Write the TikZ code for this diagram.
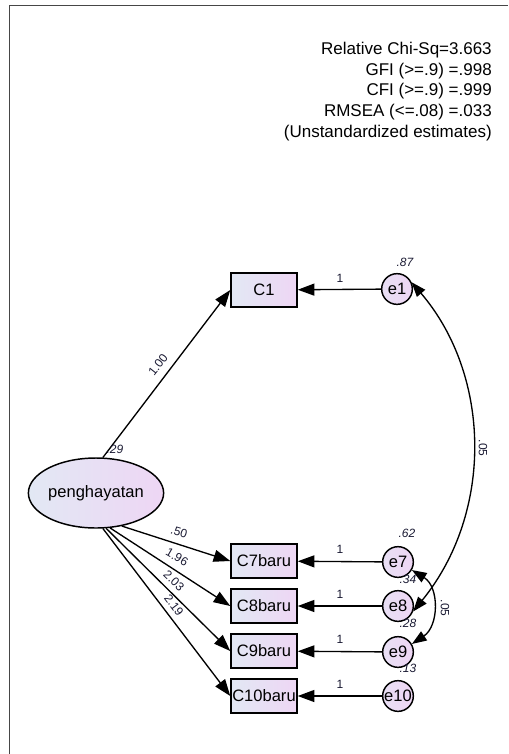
\documentclass[tikz,border=0pt]{standalone}
\usepackage{fontspec}
\setmainfont{Liberation Sans}
\usetikzlibrary{arrows.meta,shapes.geometric}
\definecolor{fillL}{RGB}{226,232,244}
\definecolor{fillR}{RGB}{238,214,244}
\definecolor{lblc}{RGB}{25,25,50}
\definecolor{brdc}{RGB}{70,70,70}
\begin{document}
\begin{tikzpicture}[x=0.75pt,y=-0.75pt,
  box/.style={draw=black, line width=1.1pt, left color=fillL, right color=fillR,
    minimum width=49.5pt, minimum height=25.5pt, inner sep=0pt,
    font=\fontsize{12.4}{14}\selectfont},
  err/.style={circle, draw=black, line width=1.1pt, left color=fillL!50!fillR, right color=fillR,
    minimum size=23pt, inner sep=0pt, font=\fontsize{12.4}{14}\selectfont},
  lat/.style={ellipse, draw=black, line width=1.1pt, left color=fillL, right color=fillR,
    minimum width=100.5pt, minimum height=52.5pt, inner sep=0pt,
    font=\fontsize{12.4}{14}\selectfont},
  reg/.style={line width=1pt, -{Triangle[length=12.5pt,width=9pt]}},
  cov/.style={line width=1pt, {Triangle[length=11pt,width=8pt]}-{Triangle[length=11pt,width=8pt]}},
  lbl/.style={font=\fontsize{9}{10}\selectfont, text=lblc, inner sep=0pt},
  var/.style={font=\fontsize{9}{10}\selectfont\itshape, text=lblc, inner sep=0pt},
  fitline/.style={font=\fontsize{12.75}{15}\selectfont, inner sep=0pt, anchor=base east},
  brd/.style={draw=brdc, line width=1.1pt}]
\useasboundingbox (0,0) rectangle (508,754);
\draw[brd] (9.5,754) -- (9.5,5.5) -- (508,5.5);

% fit statistics
\node[fitline] (t1) at (492,54) {Relative Chi-Sq=3.663};
\node[fitline] (t2) at (492,75) {GFI (>=.9) =.998};
\node[fitline] (t3) at (492,95.5) {CFI (>=.9) =.999};
\node[fitline] (t4) at (492,116) {RMSEA (<=.08) =.033};
\node[fitline] (t5) at (492,137) {(Unstandardized estimates)};

% observed variables
\node[box] (c1) at (264,290) {C1};
\node[box] (c7) at (264,561) {C7baru};
\node[box] (c8) at (264,606) {C8baru};
\node[box] (c9) at (264,651) {C9baru};
\node[box] (c10) at (264,696) {C10baru};

% errors
\node[err] (e1) at (397,289) {e1};
\node[err] (e7) at (398,562) {e7};
\node[err] (e8) at (398,606) {e8};
\node[err] (e9) at (398,652) {e9};
\node[err] (e10) at (398,696) {e10};

% latent
\node[lat] (pen) at (96,493) {penghayatan};

% regression paths
\draw[reg] (pen.79) -- (c1.west);
\draw[reg] (pen.-52) -- (c7.west);
\draw[reg] (pen.-68) -- (c8.west);
\draw[reg] (pen.-74) -- (c9.west);
\draw[reg] (pen.-79) -- (c10.west);

\draw[reg] (e1) -- (c1);
\draw[reg] (e7) -- (c7);
\draw[reg] (e8) -- (c8);
\draw[reg] (e9) -- (c9);
\draw[reg] (e10) -- (c10);

% covariances
\draw[cov] (e1.25) .. controls (491,375) and (494,512) .. (e8.-20);
\draw[cov] (e7.-30) .. controls (439.5,587) and (439,626) .. (e9.30);

% labels
\node[lbl, rotate=52] (l100) at (158,365) {1.00};
\node[lbl, rotate=-17] (l50) at (179,532) {.50};
\node[lbl, rotate=-30] (l196) at (177,557) {1.96};
\node[lbl, rotate=-44] (l203) at (174,581) {2.03};
\node[lbl, rotate=-53] (l219) at (174,605) {2.19};

\node[lbl] (w1) at (340,278) {1};
\node[lbl] (w7) at (340,549) {1};
\node[lbl] (w8) at (340,594) {1};
\node[lbl] (w9) at (340,639) {1};
\node[lbl] (w10) at (340,684) {1};

\node[var] (v29) at (115,449) {.29};
\node[var] (v1) at (405,262) {.87};
\node[var] (v7) at (407,533) {.62};
\node[var] (v8) at (408,579) {.34};
\node[var] (v9) at (408,623) {.28};
\node[var] (v10) at (408,668) {.13};

\node[lbl, rotate=-90] (k1) at (483,448) {.05};
\node[lbl, rotate=-90] (k2) at (445,608) {.05};
\end{tikzpicture}
\end{document}
